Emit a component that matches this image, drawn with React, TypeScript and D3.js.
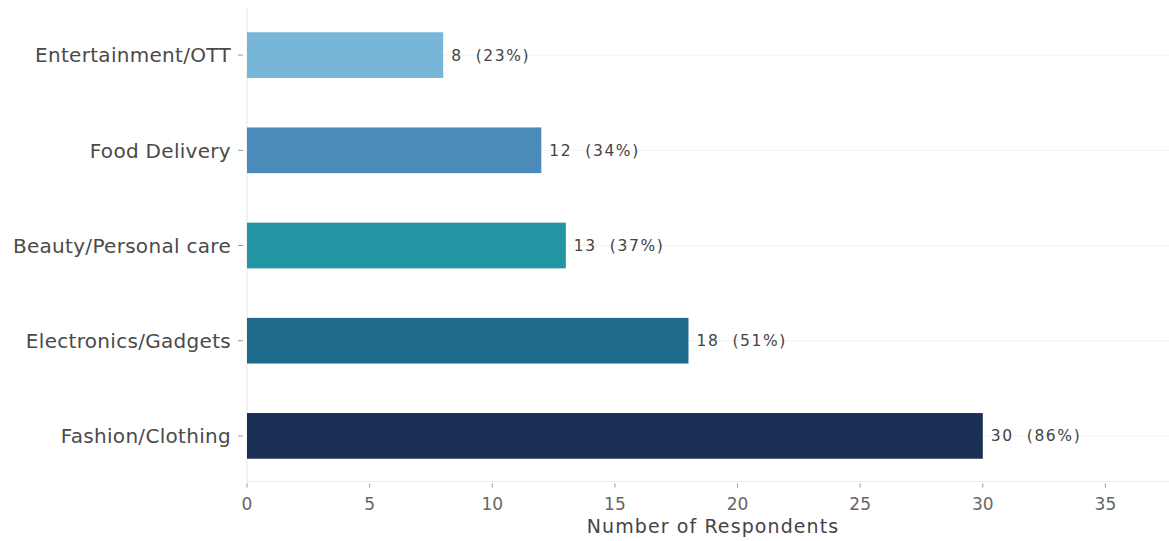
import React from "react";
import * as d3 from "d3";

const categories = ["Entertainment/OTT", "Food Delivery", "Beauty/Personal care", "Electronics/Gadgets", "Fashion/Clothing"];
const counts = [8, 12, 13, 18, 30];
const percents = [23, 34, 37, 51, 86];
const colors = ["#77b5d9", "#4a8bba", "#2396a3", "#1d6a8b", "#1b3055"];
const xTicks = [0, 5, 10, 15, 20, 25, 30, 35];
const xLabel = "Number of Respondents";

const W = 1169;
const H = 541;
const left = 247;
const right = 1179;
const top = 7.5;
const bottom = 483.5;

export default function App() {
  const x = d3.scaleLinear().domain([0, 38]).range([left, right]);
  const y = d3.scaleBand<string>().domain(categories).range([top, bottom]).paddingInner(0.52).paddingOuter(0.26);
  const font = "'DejaVu Sans', sans-serif";
  return (
    <svg width={W} height={H} style={{ position: "absolute", left: 0, top: 0, background: "#fff" }} fontFamily={font}>
      {categories.map((c) => (
        <line key={"g" + c} x1={left} x2={right} y1={y(c)! + y.bandwidth() / 2} y2={y(c)! + y.bandwidth() / 2} stroke="#f2f2f2" strokeWidth={1} />
      ))}
      <line x1={left} x2={right} y1={bottom - 2} y2={bottom - 2} stroke="#eeeeee" strokeWidth={1} />
      <line x1={left} x2={left} y1={top} y2={bottom} stroke="#e6e6e6" strokeWidth={1} />
      {categories.map((c, i) => (
        <rect key={c} x={x(0)} y={y(c)!} width={x(counts[i]) - x(0)} height={y.bandwidth()} fill={colors[i]} />
      ))}
      {categories.map((c, i) => (
        <text key={"v" + c} x={x(counts[i]) + 8} y={y(c)! + y.bandwidth() / 2} dy="0.35em" fontSize={15.5} letterSpacing={1.6} fill="#444" style={{ whiteSpace: "pre" }}>
          {`${counts[i]}  (${percents[i]}%)`}
        </text>
      ))}
      {categories.map((c) => (
        <g key={"t" + c}>
          <line x1={left - 9} x2={left - 4} y1={y(c)! + y.bandwidth() / 2} y2={y(c)! + y.bandwidth() / 2} stroke="#999" />
          <text x={left - 16} y={y(c)! + y.bandwidth() / 2} dy="0.36em" textAnchor="end" fontSize={20} letterSpacing={0.3} fill="#4a4a4a">
            {c}
          </text>
        </g>
      ))}
      {xTicks.map((t) => (
        <g key={"x" + t}>
          <line x1={x(t)} x2={x(t)} y1={bottom} y2={bottom + 4} stroke="#999" />
          <text x={x(t)} y={bottom + 26} textAnchor="middle" fontSize={17} fill="#666">
            {t}
          </text>
        </g>
      ))}
      <text x={(left + right) / 2} y={533} textAnchor="middle" fontSize={19} letterSpacing={1.1} fill="#444">
        {xLabel}
      </text>
    </svg>
  );
}
